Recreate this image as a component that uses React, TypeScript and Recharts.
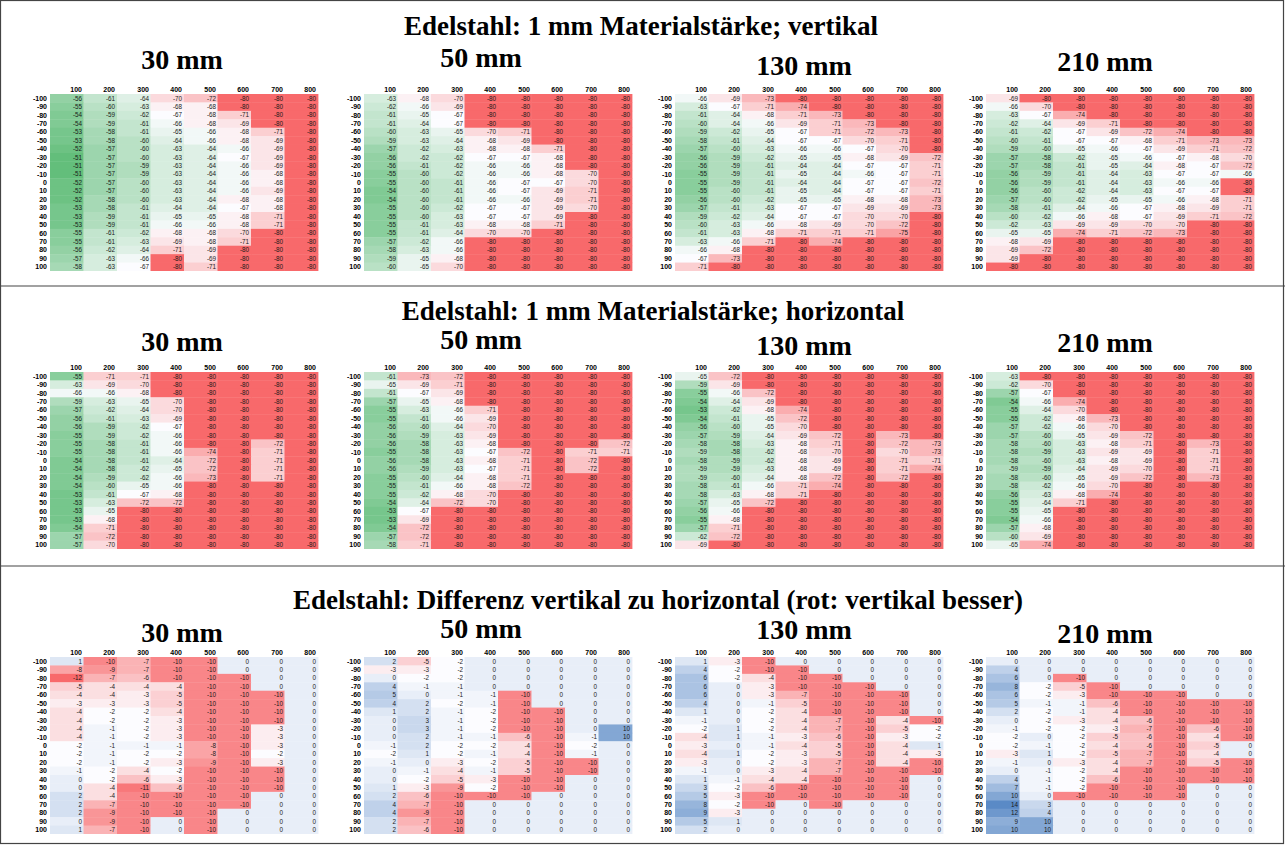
import React from "react";
import { ScatterChart, Scatter, XAxis, YAxis } from "recharts";

const COLS = [100, 200, 300, 400, 500, 600, 700, 800];
const ROWS = [-100, -90, -80, -70, -60, -50, -40, -30, -20, -10, 0, 10, 20, 30, 40, 50, 60, 70, 80, 90, 100];

const SECTION_TITLES = [
  "Edelstahl: 1 mm Materialstärke; vertikal",
  "Edelstahl: 1 mm Materialstärke; horizontal",
  "Edelstahl: Differenz vertikal zu horizontal (rot: vertikal besser)",
];
const PANEL_LABELS = ["30 mm", "50 mm", "130 mm", "210 mm"];

// vertikal
const vert30 = [
  [-56, -61, -64, -70, -72, -80, -80, -80],
  [-55, -60, -63, -68, -68, -80, -80, -80],
  [-54, -59, -62, -67, -68, -71, -80, -80],
  [-54, -59, -61, -66, -68, -69, -80, -80],
  [-53, -58, -61, -65, -66, -68, -71, -80],
  [-53, -58, -60, -64, -66, -68, -69, -80],
  [-52, -57, -60, -63, -64, -66, -69, -80],
  [-51, -57, -60, -63, -64, -67, -69, -80],
  [-51, -57, -59, -63, -64, -66, -69, -80],
  [-51, -57, -59, -63, -64, -66, -68, -80],
  [-52, -57, -60, -63, -64, -66, -68, -80],
  [-52, -57, -60, -63, -64, -66, -69, -80],
  [-52, -58, -60, -63, -64, -68, -68, -80],
  [-53, -58, -61, -64, -64, -67, -68, -80],
  [-53, -59, -61, -65, -65, -68, -71, -80],
  [-53, -59, -61, -66, -66, -68, -71, -80],
  [-55, -61, -62, -68, -68, -70, -80, -80],
  [-55, -61, -63, -69, -68, -71, -80, -80],
  [-56, -62, -64, -71, -69, -80, -80, -80],
  [-57, -63, -66, -80, -69, -80, -80, -80],
  [-58, -63, -67, -80, -71, -80, -80, -80],
];
const vert50 = [
  [-63, -68, -70, -80, -80, -80, -80, -80],
  [-62, -66, -69, -80, -80, -80, -80, -80],
  [-61, -65, -67, -80, -80, -80, -80, -80],
  [-61, -64, -67, -80, -80, -80, -80, -80],
  [-60, -63, -65, -70, -71, -80, -80, -80],
  [-59, -63, -64, -68, -69, -80, -80, -80],
  [-57, -62, -63, -68, -68, -71, -80, -80],
  [-56, -62, -62, -67, -67, -68, -80, -80],
  [-56, -61, -62, -66, -66, -68, -80, -80],
  [-55, -60, -62, -66, -66, -68, -70, -80],
  [-55, -60, -61, -66, -67, -67, -70, -80],
  [-54, -60, -61, -66, -67, -69, -71, -80],
  [-54, -60, -61, -66, -66, -69, -71, -80],
  [-55, -60, -62, -67, -67, -69, -70, -80],
  [-55, -60, -63, -67, -67, -69, -80, -80],
  [-55, -61, -63, -68, -68, -71, -80, -80],
  [-55, -61, -64, -70, -70, -80, -80, -80],
  [-57, -62, -66, -80, -80, -80, -80, -80],
  [-58, -63, -66, -80, -80, -80, -80, -80],
  [-59, -65, -68, -80, -80, -80, -80, -80],
  [-60, -65, -70, -80, -80, -80, -80, -80],
];
const vert130 = [
  [-66, -69, -73, -80, -80, -80, -80, -80],
  [-63, -67, -71, -74, -80, -80, -80, -80],
  [-61, -64, -68, -71, -73, -80, -80, -80],
  [-60, -64, -66, -69, -71, -73, -80, -80],
  [-59, -62, -65, -67, -71, -72, -73, -80],
  [-58, -61, -64, -67, -67, -70, -71, -80],
  [-57, -60, -63, -66, -66, -67, -70, -80],
  [-56, -59, -62, -65, -65, -68, -69, -72],
  [-56, -59, -61, -64, -64, -67, -67, -71],
  [-55, -59, -61, -65, -64, -66, -67, -71],
  [-55, -59, -61, -64, -64, -67, -67, -72],
  [-55, -60, -61, -65, -64, -67, -67, -71],
  [-56, -60, -62, -65, -65, -68, -68, -73],
  [-57, -61, -63, -67, -67, -69, -69, -73],
  [-59, -62, -64, -67, -67, -70, -70, -80],
  [-60, -63, -66, -68, -69, -70, -72, -80],
  [-61, -63, -68, -71, -71, -71, -75, -80],
  [-63, -66, -71, -80, -74, -80, -80, -80],
  [-66, -68, -80, -80, -80, -80, -80, -80],
  [-67, -73, -80, -80, -80, -80, -80, -80],
  [-71, -80, -80, -80, -80, -80, -80, -80],
];
const vert210 = [
  [-69, -80, -80, -80, -80, -80, -80, -80],
  [-66, -70, -80, -80, -80, -80, -80, -80],
  [-63, -67, -74, -80, -80, -80, -80, -80],
  [-62, -64, -69, -71, -80, -80, -80, -80],
  [-61, -62, -67, -69, -72, -74, -80, -80],
  [-60, -61, -67, -67, -68, -71, -73, -73],
  [-59, -60, -65, -66, -67, -69, -71, -72],
  [-57, -58, -62, -65, -66, -67, -68, -70],
  [-57, -58, -61, -65, -64, -68, -67, -72],
  [-56, -59, -61, -64, -63, -67, -67, -66],
  [-56, -59, -61, -64, -63, -66, -66, -80],
  [-56, -60, -62, -64, -63, -67, -67, -80],
  [-57, -60, -62, -65, -65, -66, -68, -71],
  [-58, -61, -64, -66, -67, -68, -69, -71],
  [-60, -62, -66, -68, -67, -69, -71, -72],
  [-62, -63, -69, -69, -70, -70, -80, -80],
  [-65, -65, -74, -71, -72, -73, -80, -80],
  [-68, -69, -80, -80, -80, -80, -80, -80],
  [-69, -72, -80, -80, -80, -80, -80, -80],
  [-69, -80, -80, -80, -80, -80, -80, -80],
  [-80, -80, -80, -80, -80, -80, -80, -80],
];

// horizontal
const horiz30 = [
  [-55, -71, -71, -80, -80, -80, -80, -80],
  [-63, -69, -70, -80, -80, -80, -80, -80],
  [-66, -66, -68, -80, -80, -80, -80, -80],
  [-59, -63, -65, -70, -80, -80, -80, -80],
  [-57, -62, -64, -70, -80, -80, -80, -80],
  [-56, -61, -63, -69, -80, -80, -80, -80],
  [-56, -59, -62, -67, -80, -80, -80, -80],
  [-55, -59, -62, -66, -80, -80, -80, -80],
  [-55, -58, -61, -66, -80, -80, -72, -80],
  [-55, -58, -61, -66, -74, -80, -71, -80],
  [-54, -58, -61, -64, -72, -80, -71, -80],
  [-54, -58, -62, -65, -72, -80, -71, -80],
  [-54, -59, -62, -66, -73, -80, -71, -80],
  [-54, -60, -65, -66, -80, -80, -80, -80],
  [-53, -61, -67, -68, -80, -80, -80, -80],
  [-53, -63, -72, -72, -80, -80, -80, -80],
  [-53, -65, -80, -80, -80, -80, -80, -80],
  [-53, -68, -80, -80, -80, -80, -80, -80],
  [-54, -71, -80, -80, -80, -80, -80, -80],
  [-57, -72, -80, -80, -80, -80, -80, -80],
  [-57, -70, -80, -80, -80, -80, -80, -80],
];
const horiz50 = [
  [-61, -73, -72, -80, -80, -80, -80, -80],
  [-65, -69, -71, -80, -80, -80, -80, -80],
  [-61, -67, -69, -80, -80, -80, -80, -80],
  [-57, -65, -68, -80, -80, -80, -80, -80],
  [-55, -63, -66, -71, -80, -80, -80, -80],
  [-55, -61, -66, -69, -80, -80, -80, -80],
  [-56, -60, -64, -70, -80, -80, -80, -80],
  [-56, -59, -63, -69, -80, -80, -80, -80],
  [-56, -58, -63, -68, -80, -80, -80, -72],
  [-55, -58, -63, -67, -72, -80, -71, -71],
  [-56, -58, -63, -68, -71, -80, -72, -80],
  [-56, -59, -63, -67, -71, -80, -72, -80],
  [-55, -60, -64, -68, -71, -80, -80, -80],
  [-55, -61, -66, -68, -72, -80, -80, -80],
  [-55, -62, -68, -70, -80, -80, -80, -80],
  [-54, -64, -72, -70, -80, -80, -80, -80],
  [-53, -67, -80, -80, -80, -80, -80, -80],
  [-53, -69, -80, -80, -80, -80, -80, -80],
  [-54, -72, -80, -80, -80, -80, -80, -80],
  [-57, -72, -80, -80, -80, -80, -80, -80],
  [-58, -71, -80, -80, -80, -80, -80, -80],
];
const horiz130 = [
  [-65, -72, -80, -80, -80, -80, -80, -80],
  [-59, -69, -80, -80, -80, -80, -80, -80],
  [-55, -66, -72, -80, -80, -80, -80, -80],
  [-54, -64, -69, -80, -80, -80, -80, -80],
  [-53, -62, -68, -74, -80, -80, -80, -80],
  [-54, -61, -65, -72, -80, -80, -80, -80],
  [-56, -60, -65, -70, -80, -80, -80, -80],
  [-57, -59, -64, -69, -72, -80, -73, -80],
  [-58, -58, -63, -68, -71, -80, -72, -73],
  [-59, -58, -62, -68, -70, -80, -70, -73],
  [-58, -59, -62, -68, -69, -80, -71, -71],
  [-59, -59, -63, -68, -69, -80, -71, -74],
  [-59, -60, -64, -68, -72, -80, -72, -80],
  [-58, -61, -66, -71, -74, -80, -80, -80],
  [-58, -63, -68, -71, -80, -80, -80, -80],
  [-57, -65, -72, -80, -80, -80, -80, -80],
  [-56, -66, -80, -80, -80, -80, -80, -80],
  [-55, -68, -80, -80, -80, -80, -80, -80],
  [-57, -71, -80, -80, -80, -80, -80, -80],
  [-62, -72, -80, -80, -80, -80, -80, -80],
  [-69, -80, -80, -80, -80, -80, -80, -80],
];
const horiz210 = [
  [-63, -80, -80, -80, -80, -80, -80, -80],
  [-62, -70, -80, -80, -80, -80, -80, -80],
  [-57, -67, -80, -80, -80, -80, -80, -80],
  [-54, -66, -74, -80, -80, -80, -80, -80],
  [-55, -64, -70, -80, -80, -80, -80, -80],
  [-55, -62, -68, -73, -80, -80, -80, -80],
  [-57, -62, -66, -70, -80, -80, -80, -80],
  [-57, -60, -65, -69, -72, -80, -80, -80],
  [-58, -60, -63, -68, -71, -80, -73, -80],
  [-58, -59, -63, -69, -69, -80, -71, -80],
  [-58, -60, -63, -68, -69, -80, -71, -80],
  [-59, -59, -64, -69, -70, -80, -71, -80],
  [-58, -60, -65, -69, -72, -80, -73, -80],
  [-58, -62, -66, -70, -80, -80, -80, -80],
  [-56, -63, -68, -74, -80, -80, -80, -80],
  [-55, -64, -71, -80, -80, -80, -80, -80],
  [-55, -65, -80, -80, -80, -80, -80, -80],
  [-54, -66, -80, -80, -80, -80, -80, -80],
  [-57, -68, -80, -80, -80, -80, -80, -80],
  [-60, -69, -80, -80, -80, -80, -80, -80],
  [-65, -74, -80, -80, -80, -80, -80, -80],
];

// Differenz
const diff30 = [
  [1, -10, -7, -10, -10, 0, 0, 0],
  [-8, -9, -7, -10, -10, 0, 0, 0],
  [-12, -7, -6, -10, -10, -10, 0, 0],
  [-5, -4, -4, -4, -10, -10, 0, 0],
  [-4, -4, -3, -5, -10, -10, -10, 0],
  [-3, -3, -3, -5, -10, -10, -10, 0],
  [-4, -2, -2, -4, -10, -10, -10, 0],
  [-4, -2, -2, -3, -10, -10, -10, 0],
  [-4, -1, -2, -3, -10, -10, -3, 0],
  [-4, -1, -2, -3, -10, -10, -3, 0],
  [-2, -1, -1, -1, -8, -10, -3, 0],
  [-2, -1, -2, -2, -8, -10, -2, 0],
  [-2, -1, -2, -3, -9, -10, -3, 0],
  [-1, -2, -4, -2, -10, -10, -10, 0],
  [0, -2, -6, -3, -10, -10, -10, 0],
  [0, -4, -11, -6, -10, -10, -10, 0],
  [2, -4, -10, -10, -10, -10, 0, 0],
  [2, -7, -10, -10, -10, -10, 0, 0],
  [2, -9, -10, -10, -10, 0, 0, 0],
  [0, -9, -10, 0, -10, 0, 0, 0],
  [1, -7, -10, 0, -10, 0, 0, 0],
];
const diff50 = [
  [2, -5, -2, 0, 0, 0, 0, 0],
  [-3, -3, -2, 0, 0, 0, 0, 0],
  [0, -2, -2, 0, 0, 0, 0, 0],
  [4, -1, -1, 0, 0, 0, 0, 0],
  [5, 0, -1, -1, -10, 0, 0, 0],
  [4, 2, -2, -1, -10, 0, 0, 0],
  [1, 2, -1, -2, -10, -10, 0, 0],
  [0, 3, -1, -2, -10, -10, 0, 0],
  [0, 3, -1, -2, -10, -10, 0, 10],
  [0, 2, -1, -1, -6, -10, -1, 10],
  [-1, 2, -2, -2, -4, -10, -2, 0],
  [-2, 1, -2, -1, -4, -10, -1, 0],
  [-1, 0, -3, -2, -5, -10, -10, 0],
  [0, -1, -4, -1, -5, -10, -10, 0],
  [0, -2, -5, -3, -10, -10, 0, 0],
  [1, -3, -9, -2, -10, -10, 0, 0],
  [2, -6, -10, -10, -10, 0, 0, 0],
  [4, -7, -10, 0, 0, 0, 0, 0],
  [4, -9, -10, 0, 0, 0, 0, 0],
  [2, -7, -10, 0, 0, 0, 0, 0],
  [2, -6, -10, 0, 0, 0, 0, 0],
];
const diff130 = [
  [1, -3, -10, 0, 0, 0, 0, 0],
  [4, -2, -10, -10, 0, 0, 0, 0],
  [6, -2, -4, -10, -10, 0, 0, 0],
  [6, 0, -3, -10, -10, -10, 0, 0],
  [6, 0, -3, -7, -10, -10, -10, 0],
  [4, 0, -1, -5, -10, -10, -10, 0],
  [1, 0, -2, -4, -10, -10, -10, 0],
  [-1, 0, -2, -4, -7, -10, -4, -10],
  [-2, 1, -2, -4, -7, -10, -5, -2],
  [-4, 1, -1, -3, -6, -10, -3, -2],
  [-3, 0, -1, -4, -5, -10, -4, 1],
  [-4, 1, -2, -3, -5, -10, -4, -3],
  [-3, 0, -2, -3, -7, -10, -4, -10],
  [-1, 0, -3, -4, -7, -10, -10, -10],
  [1, -1, -4, -4, -10, -10, -10, 0],
  [3, -2, -6, -10, -10, -10, -10, 0],
  [5, -3, -10, -10, -10, -10, -10, 0],
  [8, -2, -10, 0, -10, 0, 0, 0],
  [9, -3, 0, 0, 0, 0, 0, 0],
  [5, 1, 0, 0, 0, 0, 0, 0],
  [2, 0, 0, 0, 0, 0, 0, 0],
];
const diff210 = [
  [0, 0, 0, 0, 0, 0, 0, 0],
  [4, 0, 0, 0, 0, 0, 0, 0],
  [6, 0, -10, 0, 0, 0, 0, 0],
  [8, -2, -5, -10, 0, 0, 0, 0],
  [6, -2, -3, -10, -10, -10, 0, 0],
  [5, -1, -1, -6, -10, -10, -10, -10],
  [2, -2, -1, -4, -10, -10, -10, -10],
  [0, -2, -3, -4, -6, -10, -10, -10],
  [-1, -2, -2, -3, -7, -10, -6, -10],
  [-2, 0, -2, -5, -6, -10, -4, -10],
  [-2, -1, -2, -4, -6, -10, -5, 0],
  [-3, 1, -2, -5, -7, -10, -4, 0],
  [-1, 0, -3, -4, -7, -10, -5, -10],
  [0, -1, -2, -4, -10, -10, -10, -10],
  [4, -1, -2, -6, -10, -10, -10, -10],
  [7, -1, -2, -10, -10, -10, 0, 0],
  [10, 0, -10, -10, -10, -10, 0, 0],
  [14, 3, 0, 0, 0, 0, 0, 0],
  [12, 4, 0, 0, 0, 0, 0, 0],
  [9, 10, 0, 0, 0, 0, 0, 0],
  [10, 10, 0, 0, 0, 0, 0, 0],
];

const SECTIONS = [
  [vert30, vert50, vert130, vert210],
  [horiz30, horiz50, horiz130, horiz210],
  [diff30, diff50, diff130, diff210],
];

// layout
const Y_W = 30;
const HEAD_H = 10;
const CELL_W = 33.5;
const PLOT_H = 177;
const ROW_H = PLOT_H / 21;
const CHART_W = Y_W + CELL_W * 8 + 2;
const CHART_H = HEAD_H + PLOT_H;
const GRID_X = [50, 364, 675, 985.5];
const GRID_Y = [93.8, 371.5, 656.8];
const TITLE_POS = [
  [641, 35],
  [653, 320],
  [658, 609],
];
const LABEL_POS = [
  [[182, 69], [481, 67], [804, 75], [1105, 71]],
  [[182, 351], [481, 349], [804, 355], [1105, 352]],
  [[182, 642], [481, 638], [804, 639], [1105, 643]],
];

const RED = [248, 105, 107];
const WHITE = [252, 252, 255];
const GREEN = [99, 190, 123];
const BLUE = [90, 138, 198];

function mix(a: number[], b: number[], t: number) {
  const k = Math.max(0, Math.min(1, t));
  const c = a.map((v, i) => Math.round(v + (b[i] - v) * k));
  return `rgb(${c[0]},${c[1]},${c[2]})`;
}

function scale3(v: number, min: number, mid: number, max: number, lo: number[], hi: number[]) {
  if (v <= mid) return mix(WHITE, lo, (mid - v) / (mid - min));
  return mix(WHITE, hi, (v - mid) / (max - mid));
}

const levelColor = (v: number) => scale3(v, -80, -67, -51, RED, GREEN);
const diffColor = (v: number) => scale3(v, -12, -2, 14, RED, BLUE);

const FONT = "'Liberation Sans', Arial, sans-serif";
const SERIF = "'Liberation Serif', 'Times New Roman', serif";

const renderColTick = (props: any) => {
  const { x, payload } = props;
  const label = COLS[Math.floor(payload.value)];
  return (
    <text
      x={Math.round(x + CELL_W / 2 - 2)}
      y={HEAD_H - 2}
      textAnchor="end"
      fontSize={7}
      fontWeight="bold"
      fontFamily={FONT}
      fill="#000"
      stroke="none"
    >
      {label}
    </text>
  );
};

const renderRowTick = (props: any) => {
  const { y, payload } = props;
  return (
    <text x={Y_W - 3} y={Math.round(y + 2.5)} textAnchor="end" fontSize={7} fontWeight="bold" fontFamily={FONT} fill="#000" stroke="none">
      {ROWS[payload.value]}
    </text>
  );
};

function Heatmap({ grid, left, top, color }: { grid: number[][]; left: number; top: number; color: (v: number) => string }) {
  const points: { x: number; y: number; v: number }[] = [];
  grid.forEach((row, r) => row.forEach((v, c) => points.push({ x: c + 0.5, y: r, v })));
  const shape = (p: any) => {
    const { cx, cy, payload } = p;
    return (
      <g>
        <rect x={cx - CELL_W / 2} y={cy - ROW_H / 2} width={CELL_W + 0.4} height={ROW_H + 0.4} fill={color(payload.v)} />
        <text x={Math.round(cx + CELL_W / 2 - 2)} y={cy + 2.3} textAnchor="end" fontSize={6.3} fontFamily={FONT} fill="#1a1a1a">
          {payload.v}
        </text>
      </g>
    );
  };
  return (
    <div style={{ position: "absolute", left: left - Y_W, top: top - HEAD_H }}>
      <ScatterChart width={CHART_W} height={CHART_H} margin={{ top: 0, right: 2, bottom: 0, left: 0 }}>
        <XAxis
          type="number"
          dataKey="x"
          orientation="top"
          domain={[0, 8]}
          ticks={COLS.map((_, i) => i + 0.5)}
          interval={0}
          height={HEAD_H}
          axisLine={false}
          tickLine={false}
          tick={renderColTick}
        />
        <YAxis
          type="number"
          dataKey="y"
          domain={[-0.5, 20.5]}
          reversed
          ticks={ROWS.map((_, i) => i)}
          interval={0}
          width={Y_W}
          axisLine={false}
          tickLine={false}
          tick={renderRowTick}
        />
        <Scatter data={points} isAnimationActive={false} shape={shape} />
      </ScatterChart>
    </div>
  );
}

export default function App() {
  return (
    <div style={{ position: "absolute", left: 0, top: 0, width: 1285, height: 846, background: "#fff", overflow: "hidden" }}>
      <svg width={1285} height={846} style={{ position: "absolute", left: 0, top: 0 }}>
        <rect x={0.5} y={0.5} width={1283} height={843} fill="none" stroke="#444" strokeWidth={1.2} />
        <line x1={0} x2={1285} y1={286} y2={286} stroke="#444" strokeWidth={1.2} />
        <line x1={0} x2={1285} y1={566} y2={566} stroke="#444" strokeWidth={1.2} />
        {SECTION_TITLES.map((t, i) => (
          <text key={t} x={TITLE_POS[i][0]} y={TITLE_POS[i][1]} textAnchor="middle" fontSize={27} fontWeight="bold" fontFamily={SERIF} fill="#000">
            {t}
          </text>
        ))}
        {LABEL_POS.map((sec, si) =>
          sec.map(([x, y], pi) => (
            <text key={`${si}-${pi}`} x={x} y={y} textAnchor="middle" fontSize={28} fontWeight="bold" fontFamily={SERIF} fill="#000">
              {PANEL_LABELS[pi]}
            </text>
          ))
        )}
      </svg>
      {SECTIONS.map((sec, si) =>
        sec.map((grid, pi) => (
          <Heatmap key={`${si}-${pi}`} grid={grid} left={GRID_X[pi]} top={GRID_Y[si]} color={si === 2 ? diffColor : levelColor} />
        ))
      )}
    </div>
  );
}
